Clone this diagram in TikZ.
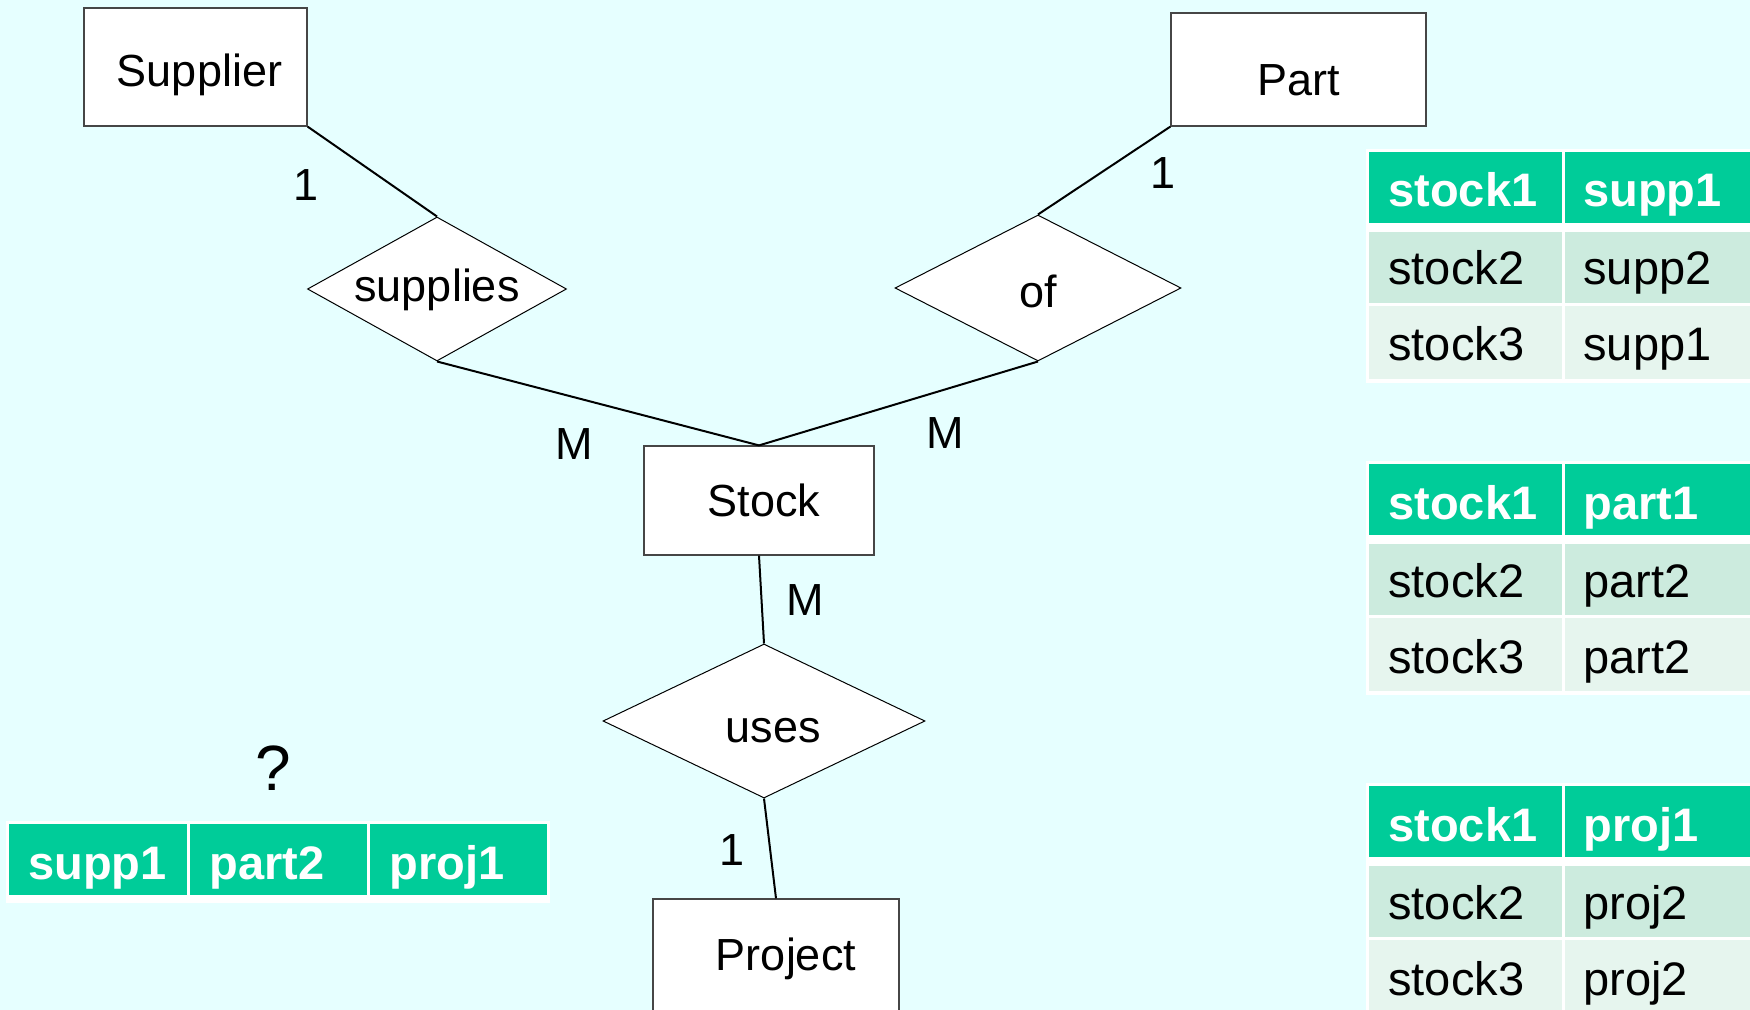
\documentclass[tikz,border=0pt]{standalone}
\usepackage{fontspec}
\setmainfont{Liberation Sans}
\usepackage{tikz}
\usetikzlibrary{shapes.geometric}
\usetikzlibrary{positioning}
\usepackage{xcolor}

\definecolor{bgcyan}{RGB}{230,255,255}
\definecolor{hdrgreen}{RGB}{0,204,153}
\definecolor{rowa}{RGB}{204,235,222}
\definecolor{rowb}{RGB}{230,245,238}
\definecolor{boxline}{RGB}{70,70,70}

\begin{document}
\begin{tikzpicture}[x=0.5pt, y=-0.5pt,
		entity/.style={draw=boxline, line width=0.6pt, fill=white, inner sep=0pt, font=\fontsize{22.5}{27}\selectfont},
		relation/.style={diamond, aspect=2, draw=black, line width=0.5pt, fill=white, inner sep=0pt, font=\fontsize{22.5}{27}\selectfont},
		card/.style={font=\fontsize{22.5}{27}\selectfont},
		link/.style={line width=1pt},
		cellhead/.style={anchor=base west, inner sep=0pt, text=white, font=\fontsize{23.5}{28}\selectfont\bfseries},
		cellbody/.style={anchor=base west, inner sep=0pt, font=\fontsize{23.5}{28}\selectfont}]
			\fill[bgcyan] (0,0) rectangle (1750,1010);
			\useasboundingbox (0,0) rectangle (1750,1010);
			
			\node[entity, minimum width=111.5pt, minimum height=59pt, text height=24pt] (supplier) at (195.5,67) {\hspace*{4pt}Supplier};
			\node[entity, minimum width=127.5pt, minimum height=56.5pt, text height=26pt] (part) at (1298.5,69.5) {Part};
			\node[entity, minimum width=115pt, minimum height=54.5pt] (stock) at (759,500.5) {\hspace*{5pt}Stock};
			\node[entity, minimum width=123pt, minimum height=65.5pt, text depth=10pt] (project) at (776,964.5) {\hspace*{10pt}Project};
			
			\node[relation, minimum width=129.5pt, minimum height=72pt, text height=17.5pt] (supplies) at (437,289) {supplies};
			\node[relation, minimum width=143pt, minimum height=73pt, text height=20pt] (of) at (1038,288) {of};
			\node[relation, minimum width=161pt, minimum height=77pt, text height=22pt] (uses) at (764,721) {\hspace*{9pt}uses};
			
			\draw[link] (supplier.south east) -- (supplies.north);
			\draw[link] (supplies.south) -- (stock.north);
			\draw[link] (part.south west) -- (of.north);
			\draw[link] (of.south) -- (stock.north);
			\draw[link] (stock.south) -- (uses.north);
			\draw[link] (uses.south) -- (project.north);
			
			\node[card] (cardsupp) at (306,185) {1};
			\node[card] (cardsuppstock) at (574,444) {M};
			\node[card] (cardpart) at (1163,173) {1};
			\node[card] (cardpartstock) at (945,433) {M};
			\node[card] (cardusesstock) at (805,600) {M};
			\node[card] (cardproj) at (732,850) {1};
			
			% the three link tables on the right
			\foreach \h/\va/\vb/\vc in {152/supp1/supp2/supp1, 464/part1/part2/part2, 786/proj1/proj2/proj2} {
				\fill[white] (1366,\h-3) rectangle (1760,\h+231);
				\fill[hdrgreen] (1369,\h) rectangle (1562,\h+71);
				\fill[hdrgreen] (1565,\h) rectangle (1760,\h+71);
				\fill[rowa] (1369,\h+80) rectangle (1562,\h+151);
				\fill[rowa] (1565,\h+80) rectangle (1760,\h+151);
				\fill[rowb] (1369,\h+154) rectangle (1562,\h+227);
				\fill[rowb] (1565,\h+154) rectangle (1760,\h+227);
				\node[cellhead] (k1\h) at (1388,\h+55) {stock1};
				\node[cellhead] (v1\h) at (1583,\h+55) {\va};
				\node[cellbody] (k2\h) at (1388,\h+133) {stock2};
				\node[cellbody] (v2\h) at (1583,\h+133) {\vb};
				\node[cellbody] (k3\h) at (1388,\h+209) {stock3};
				\node[cellbody] (v3\h) at (1583,\h+209) {\vc};
			}
			
			% the tuple in question
			\node[font=\fontsize{32}{38}\selectfont] (ask) at (273,768) {?};
			\fill[white] (6,821) rectangle (550,903);
			\fill[hdrgreen] (9,824) rectangle (187,895);
			\fill[hdrgreen] (190,824) rectangle (367,895);
			\fill[hdrgreen] (370,824) rectangle (547,895);
			\node[cellhead] (tsupp) at (28,879) {supp1};
			\node[cellhead] (tpart) at (209,879) {part2};
			\node[cellhead] (tproj) at (389,879) {proj1};
		\end{tikzpicture}
\end{document}
